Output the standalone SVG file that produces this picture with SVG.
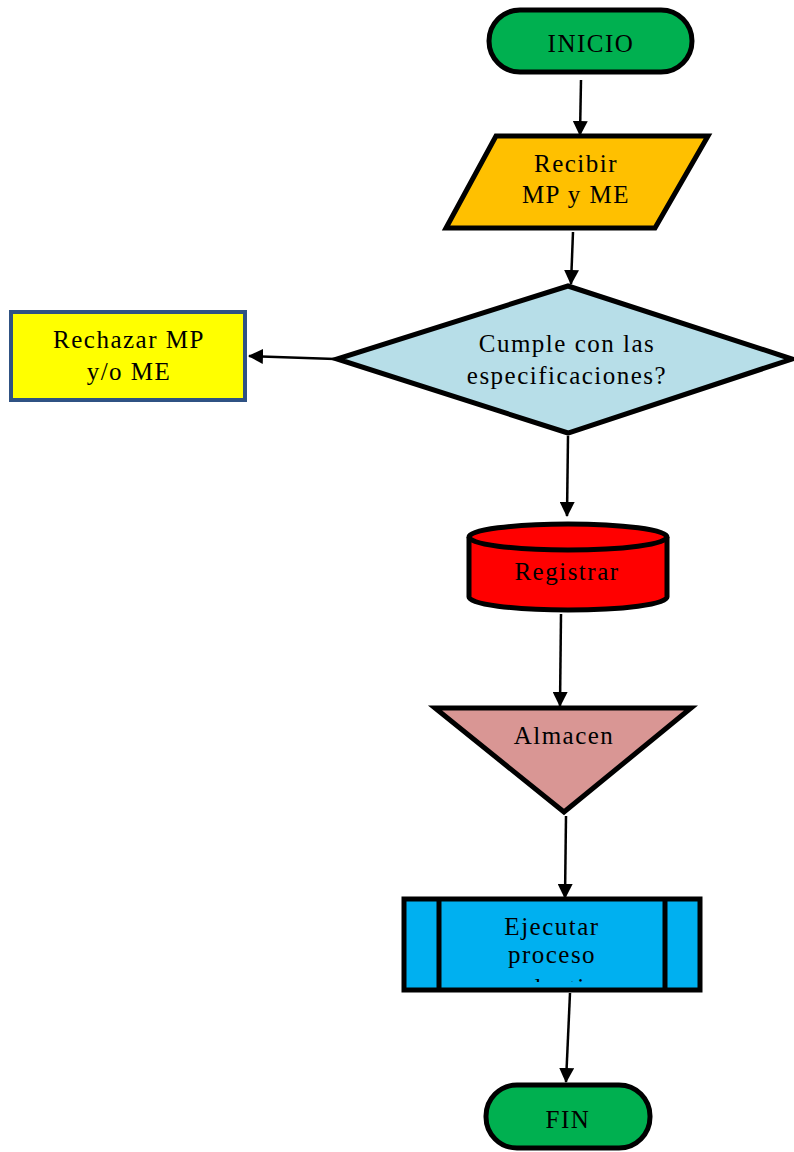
<svg xmlns="http://www.w3.org/2000/svg" width="794" height="1152" viewBox="0 0 794 1152">
  <style>
    .shape { stroke: #000; stroke-width: 5; stroke-linejoin: miter; }
    .label { font-family: "Liberation Serif", "Times New Roman", serif; font-size: 25px; letter-spacing: 1.5px; fill: #000; text-anchor: middle; }
    .edge { stroke: #000; stroke-width: 2.5; fill: none; marker-end: url(#head); }
  </style>
  <defs>
    <marker id="head" viewBox="0 0 15 15" refX="14" refY="7.5" markerWidth="15" markerHeight="15" markerUnits="userSpaceOnUse" orient="auto">
      <path d="M0,0 L15,7.5 L0,15 Z" fill="#000"/>
    </marker>
    <clipPath id="procClip">
      <rect x="440" y="899" width="222" height="83"/>
    </clipPath>
  </defs>

  <rect width="794" height="1152" fill="#fff"/>

  <!-- connectors -->
  <g id="connectors">
    <line class="edge" x1="581" y1="80" x2="580" y2="135"/>
    <line class="edge" x1="573" y1="232" x2="571" y2="284"/>
    <line class="edge" x1="335" y1="359" x2="249" y2="356"/>
    <line class="edge" x1="568" y1="436" x2="567" y2="516"/>
    <line class="edge" x1="561" y1="614" x2="560" y2="706"/>
    <line class="edge" x1="566" y1="816" x2="565" y2="898"/>
    <line class="edge" x1="570" y1="993" x2="566" y2="1082"/>
  </g>

  <!-- start terminal -->
  <g id="inicio">
    <rect class="shape" x="489" y="10" width="203" height="62" rx="31" fill="#00B050"/>
    <text class="label" x="591" y="52">INICIO</text>
  </g>

  <!-- input: receive materials -->
  <g id="recibir">
    <polygon class="shape" points="496,136 708,136 655,228 446,228" fill="#FFC000"/>
    <text class="label" x="576" y="172">Recibir</text>
    <text class="label" x="576" y="203">MP y ME</text>
  </g>

  <!-- decision -->
  <g id="cumple">
    <polygon class="shape" points="568,286 792,359 568,433 337,359" fill="#B7DEE8"/>
    <text class="label" x="567" y="352">Cumple con las</text>
    <text class="label" x="567" y="384">especificaciones?</text>
  </g>

  <!-- rejection branch -->
  <g id="rechazar">
    <rect x="11" y="312" width="234" height="88" fill="#FFFF00" stroke="#2F5283" stroke-width="4"/>
    <text class="label" x="129" y="348">Rechazar MP</text>
    <text class="label" x="129" y="380">y/o ME</text>
  </g>

  <!-- stored data -->
  <g id="registrar">
    <path class="shape" d="M469,537 L469,597 A99,13 0 0 0 667,597 L667,537" fill="#FF0000"/>
    <ellipse class="shape" cx="568" cy="537" rx="99" ry="13" fill="#FF0000"/>
    <text class="label" x="567" y="580">Registrar</text>
  </g>

  <!-- storage (merge) -->
  <g id="almacen">
    <polygon class="shape" points="435,708 691,708 564,812" fill="#D99694"/>
    <text class="label" x="564" y="744">Almacen</text>
  </g>

  <!-- predefined process -->
  <g id="ejecutar">
    <rect class="shape" x="404" y="899" width="296" height="91" fill="#00B0F0"/>
    <line class="shape" x1="439" y1="899" x2="439" y2="990"/>
    <line class="shape" x1="665" y1="899" x2="665" y2="990"/>
    <g clip-path="url(#procClip)">
      <text class="label" x="552" y="935">Ejecutar</text>
      <text class="label" x="552" y="963">proceso</text>
      <text class="label" x="552" y="996">productivo</text>
    </g>
  </g>

  <!-- end terminal -->
  <g id="fin">
    <rect class="shape" x="486" y="1085" width="164" height="63" rx="31" fill="#00B050"/>
    <text class="label" x="568" y="1128">FIN</text>
  </g>
</svg>
